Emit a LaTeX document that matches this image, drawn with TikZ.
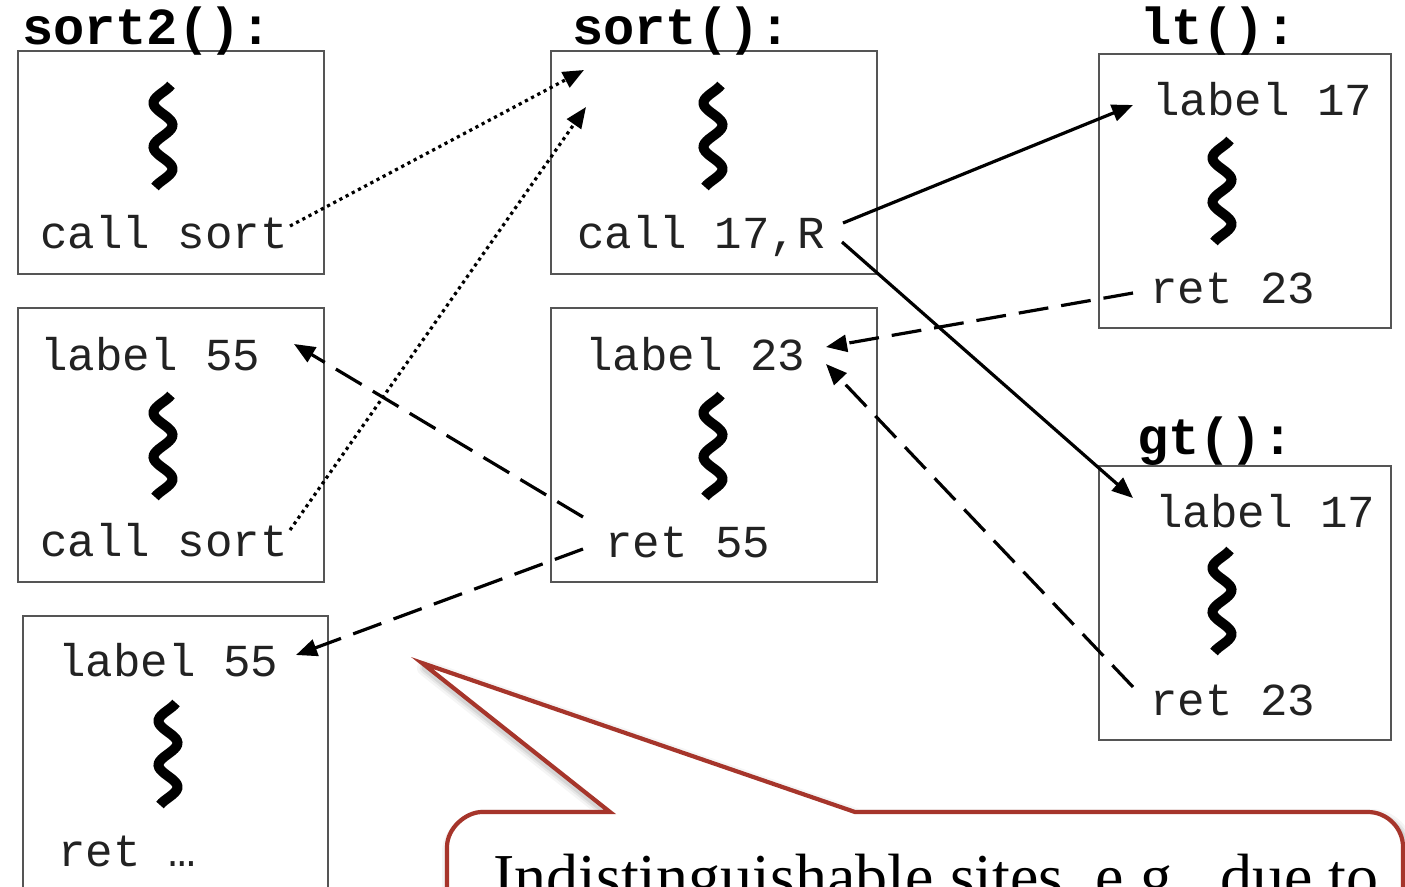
\documentclass[tikz,border=0pt]{standalone}
\usepackage{fontspec}
\setmainfont{Liberation Serif}
\setmonofont{Liberation Mono}
\usetikzlibrary{arrows.meta}
\definecolor{boxgray}{HTML}{555555}
\definecolor{codeink}{HTML}{222222}
\definecolor{callred}{HTML}{A6352B}
\newcommand\codefont{\fontsize{45.8}{50}\selectfont\ttfamily}
\newcommand\headfont{\fontsize{52}{56}\selectfont\ttfamily\bfseries}
\begin{document}
\begin{tikzpicture}[x=1pt,y=-1pt,
  box/.style={draw=boxgray, line width=2.4pt, anchor=north west, inner sep=0pt},
  code/.style={font=\codefont, anchor=base west, inner sep=0pt, text=codeink},
  head/.style={font=\headfont, anchor=base west, inner sep=0pt},
  squig/.pic={\draw[line width=10pt] plot[domain=0:102, samples=50, variable=\t]
      ({-9.5*sin((\t-7)*8.1818)}, {\t});},
  callarrow/.style={line width=3.2pt, -{Triangle[length=21pt,width=17pt]}},
  dots/.style={callarrow, dash pattern=on 3.2pt off 3.8pt},
  retarrow/.style={callarrow, dash pattern=on 30pt off 13pt},
  bubble/.style={draw=callred, line width=4.2pt, fill=white, miter limit=20},
]
\useasboundingbox (0,0) rectangle (1405,886);
\clip (0,0) rectangle (1405,886);

% procedure bodies
\node[box, minimum width=306pt, minimum height=223pt] (s2box) at (17,50) {};
\node[box, minimum width=306pt, minimum height=274pt] (lmbox) at (17,307) {};
\node[box, minimum width=305pt, minimum height=300pt] (lbbox) at (22,615) {};
\node[box, minimum width=326pt, minimum height=223pt] (sbox) at (550,50) {};
\node[box, minimum width=326pt, minimum height=274pt] (smbox) at (550,307) {};
\node[box, minimum width=292pt, minimum height=274pt] (ltbox) at (1098,53) {};
\node[box, minimum width=292pt, minimum height=274pt] (gtbox) at (1098,465) {};

% headings
\node[head] (t1) at (22,44) {sort2():};
\node[head] (t2) at (572,44) {sort():};
\node[head] (t3) at (1140,44) {lt():};
\node[head] (t4) at (1137,454) {gt():};

% elided code
\pic at (163,85) {squig};
\pic at (713,85) {squig};
\pic at (163,395) {squig};
\pic at (713,395) {squig};
\pic at (1222,140) {squig};
\pic at (1222,550) {squig};
\pic at (168,703) {squig};

% instructions
\node[code] (c1) at (40,248) {call sort};
\node[code] (l55a) at (40,370) {label 55};
\node[code] (c2) at (40,556) {call sort};
\node[code] (l55b) at (58,676) {label 55};
\node[code] (rdots) at (58,866) {ret …};
\node[code] (c17) at (577,248) {call 17,R};
\node[code] (l23) at (585,370) {label 23};
\node[code] (r55) at (605,557) {ret 55};
\node[code] (l17a) at (1152,115) {label 17};
\node[code] (r23a) at (1150,303) {ret 23};
\node[code] (l17b) at (1155,527) {label 17};
\node[code] (r23b) at (1150,715) {ret 23};

% connector ends
\coordinate (c1out) at (290,226);
\coordinate (c2out) at (290,530);
\coordinate (sin1) at (584,70);
\coordinate (sin2) at (586,107);
\coordinate (c17up) at (843,223);
\coordinate (c17dn) at (842,242);
\coordinate (ltin) at (1133,105);
\coordinate (gtin) at (1133,498);
\coordinate (r23aout) at (1133,293);
\coordinate (r23bout) at (1133,687);
\coordinate (l23in1) at (826,347);
\coordinate (l23in2) at (826,364);
\coordinate (r55up) at (583,517);
\coordinate (r55dn) at (583,549);
\coordinate (l55ain) at (294,344);
\coordinate (l55bin) at (296,655);

% calls into sort
\draw[dots] (c1out) -- (sin1);
\draw[dots] (c2out) -- (sin2);
% calls into comparators
\draw[callarrow] (c17up) -- (ltin);
\draw[callarrow] (c17dn) -- (gtin);
% returns
\draw[retarrow] (r23aout) -- (l23in1);
\draw[retarrow] (r23bout) -- (l23in2);
\draw[retarrow] (r55up) -- (l55ain);
\draw[retarrow] (r55dn) -- (l55bin);

% speech bubble with a soft shadow
\def\bubblepath{(447,930) -- (447,847) .. controls (447,828) and (466,812) .. (482,812)
  -- (610,812) -- (422,663) -- (855,812) -- (1368,812)
  .. controls (1387,812) and (1403,828) .. (1403,847) -- (1403,930)}
\foreach \w/\o in {16/0.04, 11/0.06, 7/0.08}{
  \draw[black, opacity=\o, line width=\w pt, line join=round, shift={(3,5)}] \bubblepath;
}
\path[bubble] \bubblepath -- cycle;
\node[anchor=base west, inner sep=0pt, font=\fontsize{64}{70}\selectfont] (note)
  at (493,898) {Indistinguishable sites, e.g., due to};
\end{tikzpicture}
\end{document}
